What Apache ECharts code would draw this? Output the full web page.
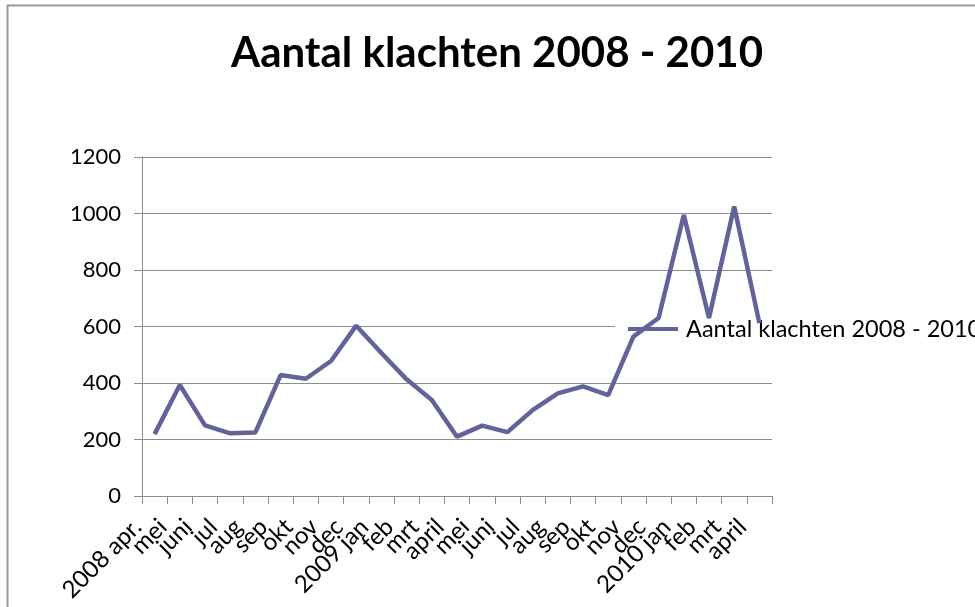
<!DOCTYPE html>
<html>
<head>
<meta charset="utf-8">
<script src="https://cdn.jsdelivr.net/npm/echarts@6/dist/echarts.min.js"></script>
<style>
  html, body { margin: 0; padding: 0; background: #fff; }
  #chart { width: 975px; height: 607px; }
</style>
</head>
<body>
<div id="chart"></div>
<script>
// maanden april 2008 t/m april 2010
const months = ['2008 apr.', 'mei', 'juni', 'jul', 'aug', 'sep', 'okt', 'nov', 'dec',
  '2009 jan', 'feb', 'mrt', 'april', 'mei', 'juni', 'jul', 'aug', 'sep', 'okt', 'nov', 'dec',
  '2010 jan', 'feb', 'mrt', 'april'];
const klachten = [219, 393, 250, 222, 225, 428, 415, 478, 603,
  506, 413, 340, 210, 249, 226, 304, 363, 388, 357, 564, 630,
  995, 630, 1025, 612];
const yTicks = [0, 1200, 200]; // min, max, stap

const seriesName = 'Aantal klachten 2008 - 2010';
const font = 'Lato';
const gridGray = '#8c8c8c';

const chart = echarts.init(document.getElementById('chart'));
chart.setOption({
  animation: false,
  backgroundColor: '#fff',
  title: {
    text: 'Aantal klachten 2008 - 2010',
    left: 492,
    textAlign: 'center',
    top: 27,
    textStyle: { fontFamily: font, fontWeight: 'bold', fontSize: 42, color: '#000' }
  },
  // kader rond de grafiek
  graphic: [{
    type: 'rect',
    shape: { x: 7.5, y: 5.5, width: 1000, height: 700 },
    style: { fill: 'none', stroke: '#999', lineWidth: 2 },
    silent: true
  }],
  legend: {
    left: 615,
    top: 313,
    z: 1,
    backgroundColor: '#fff',
    padding: [4, 0, 4, 13],
    icon: 'rect',
    itemWidth: 50,
    itemHeight: 4,
    itemGap: 0,
    textStyle: { fontFamily: font, fontSize: 23.5, color: '#000', padding: [0, 0, 0, 3] },
    data: [seriesName]
  },
  grid: { left: 142, right: 203, top: 157, bottom: 111, outerBoundsMode: 'none' },
  xAxis: {
    type: 'category',
    data: months,
    boundaryGap: true,
    axisLine: { lineStyle: { color: gridGray, width: 1 } },
    axisTick: { show: true, length: 8, lineStyle: { color: gridGray } },
    axisLabel: {
      interval: 0,
      rotate: 45,
      margin: 10,
      fontFamily: font,
      fontSize: 24,
      color: '#000',
      // lege ruimte achter het label schuift de tekst schuin omlaag, zoals in Excel
      formatter: function (v) { return v + '{s|}'; },
      rich: { s: { width: 24 } }
    }
  },
  yAxis: {
    type: 'value',
    min: yTicks[0],
    max: yTicks[1],
    interval: yTicks[2],
    axisLine: { show: true, lineStyle: { color: gridGray, width: 1 } },
    axisTick: { show: true, length: 8, lineStyle: { color: gridGray } },
    axisLabel: {
      margin: 21,
      fontFamily: font,
      fontSize: 22,
      color: '#000',
      formatter: function (v) { return String(v); }
    },
    splitLine: { show: true, lineStyle: { color: gridGray, width: 1 } }
  },
  series: [{
    name: seriesName,
    type: 'line',
    data: klachten,
    z: 3,
    symbol: 'none',
    color: '#63639c',
    lineStyle: { width: 4.5, color: '#63639c' }
  }]
});
</script>
</body>
</html>
